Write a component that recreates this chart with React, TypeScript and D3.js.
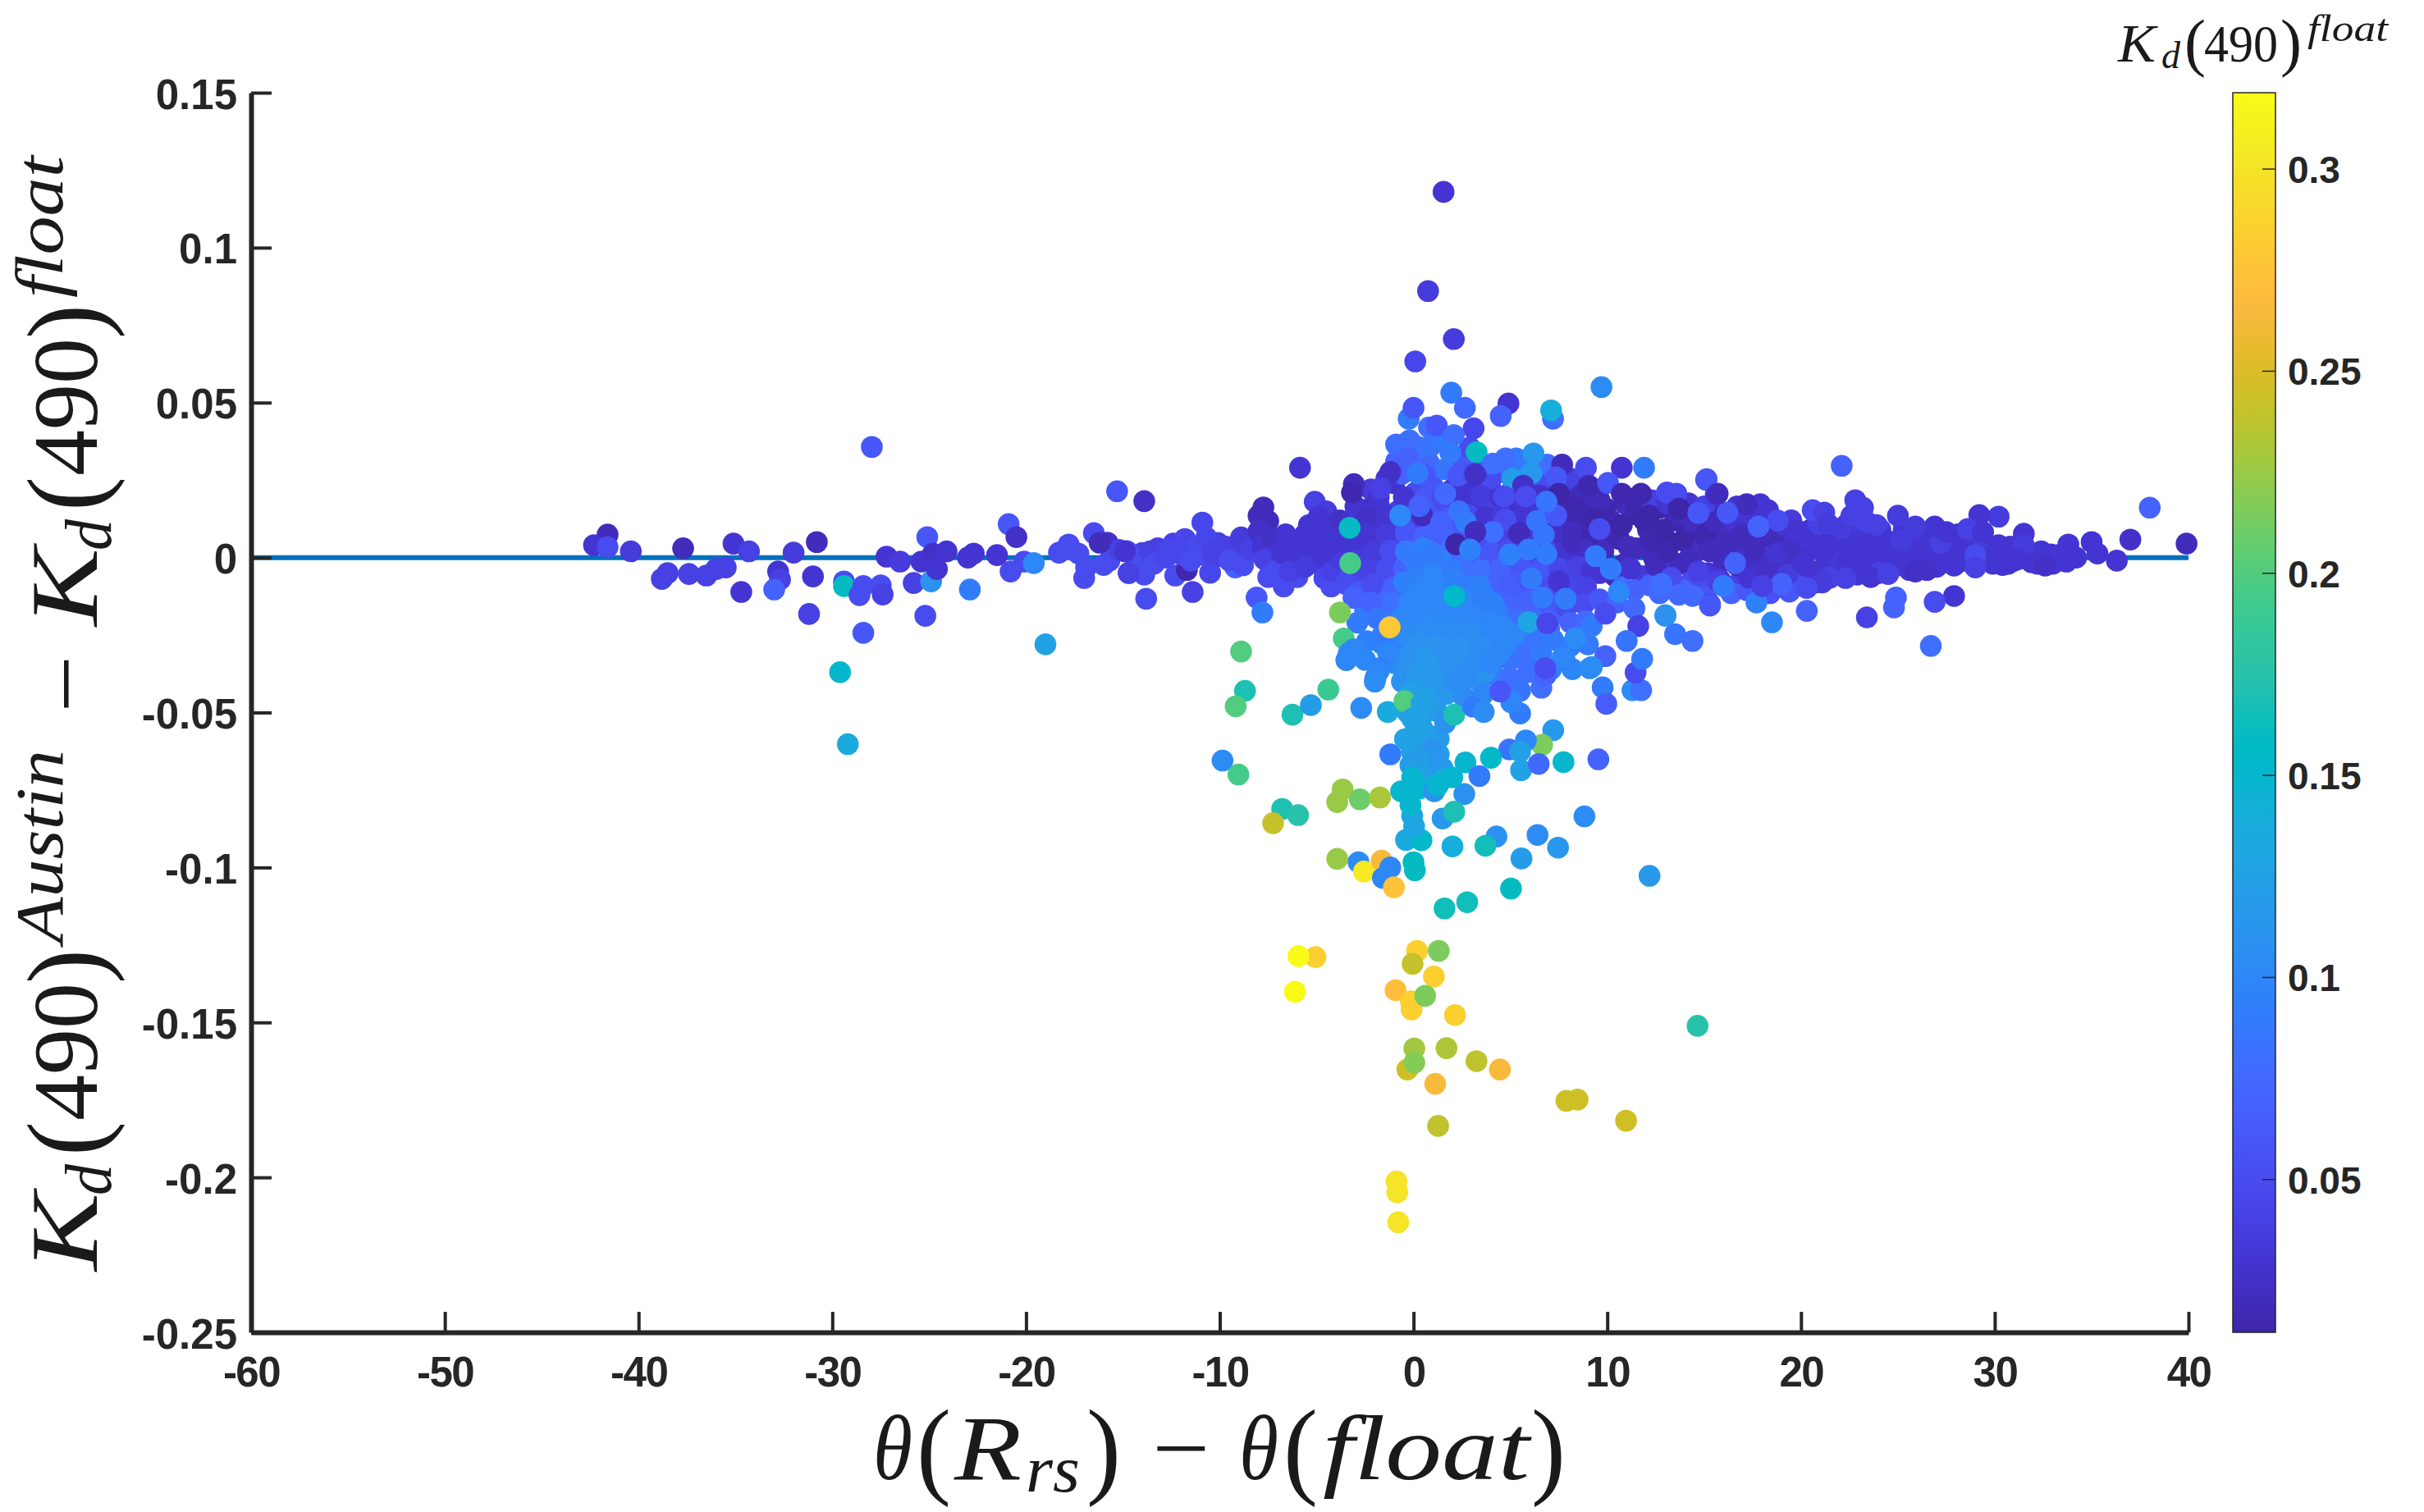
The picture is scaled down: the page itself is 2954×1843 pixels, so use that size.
import * as d3 from "d3";
import { useEffect, useRef } from "react";

const WIDTH = 2954;
const HEIGHT = 1843;
const plot = { left: 306, right: 2667, top: 113, bottom: 1624 };
const bar = { left: 2721, right: 2773 };
const ink = "#262626";

const xTicks = [-60, -50, -40, -30, -20, -10, 0, 10, 20, 30, 40];
const yTicks = [-0.25, -0.2, -0.15, -0.1, -0.05, 0, 0.05, 0.1, 0.15];
const colorTicks = [0.05, 0.1, 0.15, 0.2, 0.25, 0.3];
const colorDomain = [0.0121, 0.3188];

// MATLAB parula, 64 entries
const parula = [
  [0.2422, 0.1504, 0.6603], [0.2504, 0.165, 0.7076], [0.2578, 0.1818, 0.7511], [0.2647, 0.1978, 0.7952],
  [0.2706, 0.2147, 0.8364], [0.2751, 0.2342, 0.871], [0.2783, 0.2559, 0.8991], [0.2803, 0.2782, 0.9221],
  [0.2813, 0.3006, 0.9414], [0.281, 0.3228, 0.9579], [0.2795, 0.3447, 0.9717], [0.276, 0.3667, 0.9829],
  [0.2699, 0.3892, 0.9906], [0.2602, 0.4123, 0.9952], [0.244, 0.4358, 0.9988], [0.2206, 0.4603, 0.9973],
  [0.1963, 0.4847, 0.9892], [0.1834, 0.5074, 0.9798], [0.1786, 0.5289, 0.9682], [0.1764, 0.5499, 0.952],
  [0.1687, 0.5703, 0.9359], [0.154, 0.5902, 0.9218], [0.146, 0.6091, 0.9079], [0.138, 0.6276, 0.8973],
  [0.1248, 0.6459, 0.8883], [0.1113, 0.6635, 0.8763], [0.0952, 0.6798, 0.8598], [0.0689, 0.6948, 0.8394],
  [0.0297, 0.7082, 0.8163], [0.0036, 0.7203, 0.7917], [0.0067, 0.7312, 0.766], [0.0433, 0.7411, 0.7394],
  [0.0964, 0.75, 0.712], [0.1408, 0.7584, 0.6842], [0.1717, 0.767, 0.6554], [0.1938, 0.7758, 0.6251],
  [0.2161, 0.7843, 0.5923], [0.247, 0.7918, 0.5567], [0.2906, 0.7973, 0.5188], [0.3406, 0.8008, 0.4789],
  [0.3909, 0.8029, 0.4354], [0.4456, 0.8024, 0.3909], [0.5044, 0.7993, 0.348], [0.5616, 0.7942, 0.3045],
  [0.6174, 0.7876, 0.2612], [0.672, 0.7793, 0.2227], [0.7242, 0.7698, 0.191], [0.7738, 0.7598, 0.1646],
  [0.8203, 0.7498, 0.1535], [0.8634, 0.7406, 0.1596], [0.9035, 0.733, 0.1774], [0.9393, 0.7288, 0.21],
  [0.9728, 0.7309, 0.2394], [0.9956, 0.7434, 0.2371], [0.997, 0.766, 0.2199], [0.9952, 0.7893, 0.2028],
  [0.9892, 0.8136, 0.1885], [0.9786, 0.8386, 0.1766], [0.9676, 0.8639, 0.1643], [0.961, 0.889, 0.1537],
  [0.9597, 0.9135, 0.1423], [0.9628, 0.9373, 0.1265], [0.9691, 0.9606, 0.1064], [0.9769, 0.9839, 0.0805],
].map(([r, g, b]) => d3.rgb(r * 255, g * 255, b * 255).formatHex());

// rows are [theta difference, Kd difference, Kd float]
const leftWing = [
  [-41.6, 0.0074, 0.02], [-42.3, 0.004, 0.03], [-41.6, 0.0034, 0.05], [-40.4, 0.002, 0.035], [-37.7, 0.003, 0.02],
  [-35.1, 0.0045, 0.03], [-34.3, 0.002, 0.04], [-32, 0.0016, 0.035], [-30.8, 0.005, 0.02], [-38.5, -0.005, 0.04],
  [-38.8, -0.0069, 0.04], [-37.4, -0.0053, 0.04], [-36.5, -0.0058, 0.04], [-36, -0.0037, 0.04], [-35.5, -0.0032, 0.04],
  [-34.7, -0.0111, 0.03], [-32.8, -0.0045, 0.03], [-32.7, -0.0071, 0.04], [-33, -0.0103, 0.07], [-31, -0.0061, 0.03],
  [-31.2, -0.0182, 0.04], [-29.4, -0.0077, 0.05], [-29.4, -0.0092, 0.16], [-28.4, -0.0092, 0.05], [-28.6, -0.0121, 0.05],
  [-27.5, -0.009, 0.05], [-27.4, -0.0119, 0.04], [-25.8, -0.0082, 0.04], [-24.9, -0.0077, 0.11], [-22.9, -0.0103, 0.09],
  [-25.2, -0.0188, 0.05], [-28.4, -0.0243, 0.06], [-29.6, -0.037, 0.15], [-29.2, -0.0602, 0.135], [-19, -0.028, 0.125],
  [-27.96, 0.0357, 0.06], [-15.3, 0.0214, 0.06], [-13.9, 0.0182, 0.025], [-27.2, 0.0003, 0.03], [-26.5, -0.0013, 0.035],
  [-25.4, -0.0013, 0.03], [-25.1, 0.0066, 0.06], [-24.8, 0.0013, 0.025], [-24.1, 0.002, 0.03], [-24.6, -0.0037, 0.03],
  [-23, 0, 0.03], [-22.7, 0.0013, 0.03], [-21.5, 0.0008, 0.03], [-20.9, 0.0108, 0.06], [-20.5, 0.0066, 0.025],
  [-20.8, -0.0045, 0.05], [-20.1, -0.0013, 0.05], [-19.6, -0.0018, 0.1], [-18.3, 0.0016, 0.05], [-17.8, 0.0042, 0.05],
  [-16.5, 0.0079, 0.05], [-16.2, 0.0048, 0.02], [-17.3, 0.0013, 0.05], [-16.9, -0.0032, 0.05], [-17, -0.0066, 0.05],
  [-16, -0.0024, 0.05], [-14.9, 0.002, 0.03], [-14.7, -0.005, 0.04],
];

const leftBand = [
  [-15.8, 0.0048, 0.025], [-15.7, -0.001, 0.05], [-14.8, 0.0021, 0.045], [-14.7, -0.0049, 0.05], [-14, 0.0015, 0.04],
  [-13.9, -0.0055, 0.05], [-13.8, -0.0133, 0.05], [-13.2, 0.003, 0.04], [-12.4, 0.0045, 0.04], [-12.3, -0.0058, 0.05],
  [-11.8, 0.006, 0.045], [-11.7, -0.004, 0.015], [-11.4, -0.0111, 0.04], [-11.2, 0.0036, 0.05], [-10.9, 0.0113, 0.045],
  [-10.5, -0.0049, 0.045], [-10.1, 0.0047, 0.04], [-9.9, 0.0005, 0.04], [-9.2, -0.0032, 0.07], [-9.1, 0.0042, 0.035],
  [-8.6, 0.0012, 0.035], [-8.3, 0.006, 0.03], [-8.1, -0.0129, 0.06], [-8, 0.0135, 0.02], [-7.8, -0.0177, 0.09],
  [-7.75, 0.0162, 0.02], [-7.5, 0.0118, 0.02], [-7.5, -0.0063, 0.05], [-7.4, 0.0022, 0.025], [-7.1, -0.002, 0.04],
  [-6.7, -0.0093, 0.05], [-6.5, 0.0035, 0.03], [-6.2, -0.0015, 0.03], [-6, -0.0063, 0.05], [-5.8, 0.0045, 0.03],
  [-5.4, 0.0105, 0.03], [-5.1, 0.018, 0.04], [-5.2, 0.0012, 0.03], [-4.8, -0.0025, 0.035], [-4.6, -0.0067, 0.045],
  [-4.5, 0.0149, 0.035], [-4.4, 0.006, 0.03], [-4.25, -0.0093, 0.05], [-4, 0.0018, 0.03], [-3.8, 0.0085, 0.03],
  [-3.6, -0.0035, 0.04], [-3.3, 0.0109, 0.02], [-3.2, 0.0035, 0.03], [-3, -0.0075, 0.05], [-2.17, 0.0162, 0.02],
  [-15.2, 0.0025, 0.04], [-14.4, 0.0005, 0.05], [-14.2, -0.0025, 0.05], [-13.6, 0.002, 0.04], [-13.4, -0.002, 0.05],
  [-12.8, 0, 0.045], [-12.6, 0.003, 0.045], [-12, 0.001, 0.045], [-11.5, -0.001, 0.05], [-11, 0.001, 0.05],
  [-10.7, 0.0065, 0.045], [-10.4, 0.0015, 0.04], [-9.7, 0.0035, 0.04], [-9.5, -0.001, 0.05], [-8.9, 0.0065, 0.035],
  [-8.8, -0.0025, 0.05], [-8.4, 0.0025, 0.04], [-8, 0.0085, 0.025], [-7.8, 0.0035, 0.03], [-7.7, -0.0005, 0.04],
  [-7.3, 0.0065, 0.025], [-7.2, -0.0045, 0.05], [-6.8, 0.0015, 0.03], [-6.6, 0.0075, 0.03], [-6.4, -0.0045, 0.04],
  [-5.9, 0.0015, 0.03], [-5.6, -0.003, 0.035], [-5.6, 0.0075, 0.03], [-5, 0.0055, 0.03], [-4.9, 0.013, 0.03],
  [-4.7, 0.0005, 0.03], [-4.5, 0.0095, 0.03], [-4.2, -0.0045, 0.04], [-4.1, 0.0035, 0.03], [-3.8, 0.012, 0.025],
  [-3.7, -0.0015, 0.035], [-3.4, 0.0065, 0.03], [-3.3, -0.0055, 0.045], [-3.5, -0.0085, 0.05], [-2.7, 0.0125, 0.025],
  [-3, 0.0165, 0.03], [-2.9, 0.002, 0.03],
];

const rightBand = [
  [10.2, 0.012, 0.02], [10.6, 0.006, 0.015], [10.9, -0.002, 0.02], [11.3, 0.014, 0.012], [11.5, 0.003, 0.02],
  [11.8, -0.006, 0.035], [12.1, 0.009, 0.015], [12.4, 0, 0.02], [12.7, 0.016, 0.015], [12.9, -0.004, 0.03],
  [13.2, 0.005, 0.012], [13.5, 0.012, 0.015], [13.8, -0.002, 0.02], [14.1, 0.008, 0.015], [14.3, -0.008, 0.05],
  [14.6, 0.002, 0.025], [14.9, 0.011, 0.02], [15.2, -0.005, 0.03], [15.5, 0.006, 0.015], [15.8, 0.015, 0.02],
  [16, -0.001, 0.02], [16.3, 0.009, 0.025], [16.6, -0.009, 0.04], [16.9, 0.003, 0.02], [17.2, 0.012, 0.03],
  [17.5, -0.004, 0.025], [17.8, 0.006, 0.02], [18.1, 0, 0.03], [18.4, 0.01, 0.03], [18.6, -0.007, 0.03],
  [18.9, 0.004, 0.025], [19.2, -0.002, 0.025], [19.5, 0.012, 0.035], [19.7, 0.007, 0.03], [20, -0.005, 0.03],
  [20.2, 0.001, 0.03], [20.5, 0.009, 0.03], [20.8, -0.008, 0.035], [21, 0.004, 0.03], [21.3, -0.002, 0.03],
  [21.6, 0.008, 0.025], [21.9, 0.001, 0.035], [22.2, -0.005, 0.03], [22.4, 0.011, 0.03], [22.7, 0.005, 0.03],
  [23, -0.001, 0.03], [23.3, 0.008, 0.035], [23.5, -0.004, 0.03], [23.8, 0.003, 0.03], [24.1, 0.009, 0.035],
  [24.3, -0.002, 0.03], [24.7, 0.005, 0.035], [25, 0, 0.025], [25.3, 0.009, 0.03], [25.6, -0.004, 0.03],
  [25.9, 0.004, 0.03], [26.2, -0.001, 0.025], [26.5, 0.007, 0.03], [26.8, 0.002, 0.03], [27, -0.003, 0.03],
  [27.4, 0.006, 0.03], [27.7, 0, 0.03], [28, -0.002, 0.03], [28.3, 0.005, 0.03], [28.6, 0.001, 0.03],
  [29.7, 0.002, 0.03], [29.9, -0.002, 0.03], [30.6, 0.002, 0.03], [31, -0.001, 0.03], [31.8, 0.001, 0.03],
  [32.2, -0.002, 0.03], [32.9, 0.001, 0.025], [33.3, -0.001, 0.03], [10.4, -0.006, 0.02], [12.2, -0.009, 0.07],
  [13.2, -0.008, 0.05], [15, -0.01, 0.05], [15.8, -0.007, 0.03], [17.1, 0, 0.025], [19.8, -0.009, 0.05],
  [10.8, -0.0095, 0.08], [11.4, -0.0105, 0.07], [12.7, -0.0115, 0.075], [13.9, -0.0105, 0.07], [15.1, -0.0125, 0.06],
  [16.4, -0.0115, 0.07], [17.2, -0.0105, 0.06], [18.4, -0.0115, 0.055], [19.4, -0.011, 0.06], [10.9, 0.0175, 0.02],
  [11.5, 0.0165, 0.015], [12.3, 0.0185, 0.04], [13.1, 0.0175, 0.03], [14.2, 0.0175, 0.03], [15, 0.0165, 0.04],
  [16.7, 0.0165, 0.03],
];

const rightBandInner = [
  [10.5, 0.009, 0.015], [11.1, 0.0035, 0.02], [11.2, -0.0035, 0.03], [11.9, 0.012, 0.012], [12.2, 0.0055, 0.015],
  [12.5, -0.0025, 0.02], [12.9, 0.009, 0.012], [13.1, 0.002, 0.015], [13.3, -0.0065, 0.05], [13.7, 0.0145, 0.02],
  [13.9, 0.0055, 0.012], [14.2, -0.0005, 0.02], [14.4, 0.0115, 0.02], [14.7, -0.0045, 0.04], [15, 0.007, 0.015],
  [15.3, 0.002, 0.02], [15.6, 0.0115, 0.02], [15.7, -0.0075, 0.04], [16.1, 0.005, 0.02], [16.4, 0.013, 0.03],
  [16.7, -0.0025, 0.02], [17, 0.0075, 0.02], [17.3, -0.0065, 0.03], [17.6, 0.002, 0.02], [17.9, 0.0125, 0.03],
  [18.2, -0.0035, 0.025], [18.5, 0.0065, 0.02], [18.8, 0.0015, 0.03], [19.1, 0.0105, 0.03], [19.3, -0.0055, 0.035],
  [19.6, 0.0035, 0.025], [19.9, 0.0085, 0.03], [20.1, -0.002, 0.03], [20.4, 0.0055, 0.03], [20.7, -0.0045, 0.03],
  [20.9, 0.011, 0.04], [21.2, 0.0015, 0.03], [21.5, -0.0065, 0.04], [21.8, 0.0055, 0.03], [22.1, 0.0095, 0.035],
  [22.3, -0.002, 0.03], [22.6, 0.0025, 0.03], [22.9, -0.0055, 0.03], [23.2, 0.0055, 0.03], [23.4, 0.0115, 0.04],
  [23.7, 0.0005, 0.03], [24, -0.005, 0.04], [24.2, 0.0065, 0.03], [24.5, 0.002, 0.03], [24.8, -0.003, 0.03],
  [25.1, 0.0035, 0.03], [25.4, 0.0065, 0.03], [25.6, -0.0015, 0.03], [25.9, -0.0045, 0.025], [26.1, 0.0075, 0.03],
  [26.4, 0.0025, 0.03], [26.7, -0.002, 0.03], [27, 0.0065, 0.03], [27.2, 0.001, 0.03], [27.5, -0.0015, 0.03],
  [27.8, 0.0035, 0.03], [28.1, 0.0075, 0.03], [28.4, -0.001, 0.03], [28.8, 0.0035, 0.03], [29.2, -0.0015, 0.03],
  [29.5, 0.0045, 0.035], [29.8, 0, 0.03], [30.1, 0.0015, 0.03], [30.7, -0.002, 0.03], [30.8, 0.0035, 0.03],
  [31.3, 0.0015, 0.03], [31.9, -0.0015, 0.03], [32.4, 0, 0.03], [33, -0.002, 0.03], [33.4, 0.001, 0.03],
];

const coreFill = [
  [-2.2, 0.022, 0.035], [-1, 0.024, 0.025], [0.1, 0.021, 0.05], [1, 0.023, 0.06], [2, 0.022, 0.03], [3, 0.024, 0.03],
  [4, 0.022, 0.035], [5, 0.021, 0.03], [6.2, 0.023, 0.04], [7, 0.022, 0.03], [8, 0.023, 0.03], [9.2, 0.021, 0.02],
  [-2.8, 0.015, 0.03], [-1.8, 0.017, 0.03], [-0.8, 0.015, 0.04], [0.3, 0.017, 0.06], [1.3, 0.016, 0.05], [2.2, 0.017, 0.04],
  [3.3, 0.015, 0.03], [4.2, 0.017, 0.04], [5, 0.015, 0.02], [6, 0.017, 0.03], [7, 0.016, 0.025], [8, 0.017, 0.02],
  [9, 0.015, 0.015], [9.9, 0.016, 0.015], [-2.9, 0.01, 0.025], [-2, 0.011, 0.03], [-1, 0.009, 0.04], [0, 0.011, 0.05],
  [1, 0.01, 0.05], [2, 0.011, 0.045], [3, 0.009, 0.04], [4, 0.011, 0.035], [4.9, 0.009, 0.03], [5.8, 0.011, 0.03],
  [6.8, 0.01, 0.025], [7.7, 0.011, 0.02], [8.7, 0.009, 0.015], [9.7, 0.01, 0.012], [-2.6, 0.005, 0.03], [-1.6, 0.004, 0.04],
  [-0.6, 0.005, 0.05], [0.5, 0.004, 0.06], [1.4, 0.006, 0.06], [2.5, 0.005, 0.05], [3.5, 0.004, 0.045], [4.4, 0.006, 0.04],
  [5.4, 0.005, 0.03], [6.3, 0.004, 0.04], [7.3, 0.006, 0.035], [8.3, 0.005, 0.03], [9.2, 0.004, 0.02], [-2.9, -0.001, 0.035],
  [-1.9, -0.002, 0.04], [-1, 0, 0.05], [0, -0.002, 0.07], [1.1, -0.001, 0.07], [2, 0, 0.06], [3, -0.002, 0.06],
  [4, -0.001, 0.05], [5, 0, 0.045], [6, -0.002, 0.05], [7, -0.001, 0.045], [8, 0, 0.03], [9, -0.002, 0.025],
  [9.8, -0.001, 0.02], [-2.4, -0.006, 0.045], [-1.4, -0.007, 0.06], [-0.4, -0.005, 0.07], [0.6, -0.007, 0.08], [1.6, -0.006, 0.07],
  [2.7, -0.005, 0.065], [3.7, -0.007, 0.06], [4.6, -0.006, 0.06], [5.6, -0.005, 0.05], [6.6, -0.007, 0.05], [7.5, -0.005, 0.04],
  [8.5, -0.006, 0.035], [9.6, -0.005, 0.03], [-2.8, -0.011, 0.06], [-1.8, -0.012, 0.075], [-0.8, -0.011, 0.085], [0.3, -0.012, 0.09],
  [1.3, -0.011, 0.08], [2.3, -0.013, 0.075], [3.3, -0.011, 0.07], [4.3, -0.012, 0.07], [5.3, -0.013, 0.065], [6.2, -0.011, 0.06],
  [7.2, -0.012, 0.055], [8.1, -0.013, 0.05], [-2.5, -0.017, 0.09], [-1.5, -0.016, 0.08], [-0.5, -0.018, 0.09], [0.5, -0.017, 0.09],
  [1.5, -0.016, 0.085], [2.5, -0.018, 0.08], [3.5, -0.017, 0.08], [4.5, -0.016, 0.075], [5.5, -0.018, 0.08], [6.4, -0.017, 0.075],
  [7.4, -0.018, 0.06], [-1.1, -0.022, 0.09], [0, -0.023, 0.1], [1, -0.022, 0.09], [2, -0.024, 0.09], [3, -0.022, 0.085],
  [4, -0.023, 0.08], [5, -0.022, 0.085], [6, -0.024, 0.09], [7, -0.023, 0.075], [-1.6, -0.028, 0.1], [-0.5, -0.029, 0.1],
  [0.5, -0.028, 0.105], [1.5, -0.03, 0.1], [2.6, -0.029, 0.09], [3.6, -0.028, 0.09], [4.6, -0.03, 0.085], [5.6, -0.029, 0.085],
  [-1, -0.034, 0.1], [0, -0.035, 0.115], [1, -0.034, 0.11], [2, -0.036, 0.1], [3.1, -0.035, 0.09], [4.1, -0.034, 0.09],
  [-0.6, -0.04, 0.11], [0.5, -0.041, 0.12], [1.4, -0.04, 0.115], [2.4, -0.041, 0.1], [3.4, -0.04, 0.11], [4.4, -0.039, 0.09],
];

const coreInner = [
  [-0.9, 0.031, 0.07], [0.8, 0.0305, 0.075], [1.6, 0.0285, 0.085], [2.6, 0.03, 0.06], [3.4, 0.029, 0.06], [4.7, 0.0275, 0.085],
  [5.6, 0.029, 0.1], [-0.6, 0.027, 0.07], [2.3, 0.0265, 0.06], [4, 0.0255, 0.05], [-1.4, 0.0255, 0.03], [0.6, 0.0265, 0.06],
  [6.6, 0.0255, 0.05], [8.1, 0.0255, 0.04], [-1.8, 0.0195, 0.03], [-0.5, 0.0195, 0.03], [0.6, 0.019, 0.06], [1.5, 0.0195, 0.05],
  [2.6, 0.0195, 0.03], [3.5, 0.02, 0.035], [4.5, 0.0195, 0.03], [5.5, 0.0185, 0.03], [6.5, 0.02, 0.025], [7.5, 0.019, 0.02],
  [8.6, 0.02, 0.02], [9.6, 0.0185, 0.02], [-2.4, 0.0128, 0.025], [-1.4, 0.0135, 0.03], [-0.3, 0.013, 0.05], [0.8, 0.0135, 0.06],
  [1.8, 0.0128, 0.06], [2.8, 0.0138, 0.05], [3.7, 0.013, 0.03], [4.6, 0.0135, 0.035], [5.5, 0.0128, 0.03], [6.5, 0.014, 0.03],
  [7.5, 0.0128, 0.02], [8.4, 0.0135, 0.015], [9.3, 0.0125, 0.012], [-2.3, 0.0075, 0.03], [-1.4, 0.0075, 0.035], [-0.4, 0.008, 0.06],
  [0.6, 0.0072, 0.07], [1.6, 0.008, 0.07], [2.6, 0.0078, 0.06], [3.5, 0.0072, 0.05], [4.5, 0.008, 0.04], [5.4, 0.0072, 0.03],
  [6.4, 0.008, 0.035], [7.3, 0.0075, 0.025], [8.2, 0.0082, 0.02], [9.2, 0.0072, 0.015], [10.1, 0.0075, 0.015], [-2.1, 0.002, 0.035],
  [-1.2, 0.0022, 0.05], [-0.2, 0.0018, 0.07], [0.9, 0.002, 0.08], [1.9, 0.0025, 0.08], [3, 0.0018, 0.07], [4, 0.002, 0.06],
  [4.9, 0.0025, 0.05], [5.9, 0.0018, 0.04], [6.9, 0.0022, 0.045], [7.8, 0.002, 0.03], [8.8, 0.0025, 0.025], [9.8, 0.002, 0.02],
  [-2.3, -0.004, 0.04], [-1.4, -0.0035, 0.05], [-0.5, -0.0035, 0.07], [0.6, -0.004, 0.09], [1.6, -0.0035, 0.09], [2.5, -0.0025, 0.08],
  [3.5, -0.004, 0.08], [4.5, -0.0035, 0.07], [5.5, -0.0025, 0.06], [6.5, -0.004, 0.06], [7.5, -0.0035, 0.045], [8.5, -0.003, 0.04],
  [9.2, -0.0045, 0.03], [-2.1, -0.0085, 0.05], [-1, -0.0095, 0.07], [0, -0.009, 0.09], [1, -0.0085, 0.09], [2, -0.0095, 0.09],
  [3, -0.0085, 0.08], [4, -0.0095, 0.07], [5, -0.0085, 0.065], [6, -0.009, 0.06], [7, -0.0095, 0.05], [8, -0.009, 0.045],
  [8.9, -0.0095, 0.04], [-2.2, -0.0145, 0.07], [-1.1, -0.0145, 0.08], [-0.1, -0.015, 0.09], [1, -0.014, 0.09], [2, -0.0145, 0.085],
  [3, -0.0145, 0.08], [4, -0.0145, 0.075], [5, -0.015, 0.07], [6, -0.014, 0.07], [7, -0.015, 0.06], [7.9, -0.016, 0.05],
  [8.8, -0.015, 0.05], [-1.9, -0.0195, 0.085], [-1, -0.02, 0.085], [0.1, -0.0195, 0.09], [1, -0.019, 0.09], [2, -0.0205, 0.09],
  [3, -0.0195, 0.085], [4, -0.02, 0.08], [5, -0.02, 0.08], [5.9, -0.021, 0.085], [7, -0.0205, 0.07], [8.1, -0.021, 0.07],
  [-1.6, -0.025, 0.09], [-0.8, -0.0255, 0.095], [0.3, -0.0255, 0.1], [1.3, -0.025, 0.1], [2.3, -0.027, 0.09], [3.3, -0.0255, 0.09],
  [4.3, -0.0265, 0.085], [5.3, -0.0255, 0.085], [6.3, -0.0265, 0.085], [-1.3, -0.031, 0.1], [-0.2, -0.032, 0.11], [0.9, -0.0315, 0.11],
  [1.9, -0.033, 0.1], [3, -0.032, 0.09], [4, -0.0315, 0.09], [5, -0.033, 0.085], [5.9, -0.032, 0.08], [-0.5, -0.037, 0.11],
  [0.2, -0.0385, 0.12], [1, -0.0375, 0.115], [2, -0.039, 0.105], [2.9, -0.038, 0.1], [3.9, -0.0375, 0.09], [5, -0.039, 0.08],
  [-0.2, -0.044, 0.125], [0.7, -0.0445, 0.125], [1.7, -0.044, 0.115], [2.6, -0.045, 0.105], [3.6, -0.044, 0.1], [-0.3, -0.05, 0.125],
  [0.6, -0.05, 0.13], [1.2, -0.0495, 0.12], [0.1, -0.056, 0.125], [0.7, -0.057, 0.125], [1.3, -0.0585, 0.12], [-0.1, -0.0625, 0.125],
  [0.6, -0.061, 0.125], [1.3, -0.0635, 0.12], [0.2, -0.069, 0.13], [0.9, -0.0695, 0.125], [1.5, -0.068, 0.12],
];

const coreEdge = [
  [8.9, -0.0205, 0.075], [9.6, -0.0135, 0.06], [10.5, -0.0145, 0.07], [7.2, -0.0265, 0.09], [8.1, -0.0285, 0.09],
  [9, -0.028, 0.09], [6.6, -0.031, 0.09], [7.1, -0.036, 0.095], [8.2, -0.036, 0.1], [5.9, -0.037, 0.08],
  [5.5, -0.043, 0.085], [6.6, -0.042, 0.08], [-3.1, -0.013, 0.07], [-2.9, -0.021, 0.09], [-2.4, -0.027, 0.095],
  [-2.5, -0.033, 0.1], [-0.9, 0.0365, 0.08], [0.9, 0.036, 0.085], [1.5, 0.039, 0.09], [2.9, 0.0355, 0.05],
  [0.8, 0.042, 0.08], [5.3, 0.032, 0.09], [6.9, 0.03, 0.08],
];

const coreBlob = [
  [-0.4, 0.002, 0.09], [0.5, 0.003, 0.095], [1.4, -0.001, 0.095], [0.2, -0.004, 0.095], [1, -0.006, 0.1], [2, -0.004, 0.09],
  [-0.5, -0.008, 0.095], [0.4, -0.01, 0.1], [1.5, -0.011, 0.1], [2.7, -0.009, 0.09], [3.6, -0.012, 0.09], [-0.2, -0.014, 0.1],
  [0.8, -0.015, 0.1], [1.9, -0.016, 0.1], [3, -0.015, 0.095], [4.3, -0.017, 0.09], [-0.6, -0.019, 0.1], [0.2, -0.02, 0.1],
  [1.2, -0.02, 0.105], [2.4, -0.021, 0.105], [3.4, -0.02, 0.1], [4.6, -0.022, 0.1], [5.2, -0.025, 0.1], [-0.3, -0.025, 0.105],
  [0.7, -0.025, 0.11], [1.8, -0.026, 0.11], [2.9, -0.026, 0.11], [4, -0.027, 0.105], [0.1, -0.03, 0.11], [1.1, -0.031, 0.115],
  [2.3, -0.031, 0.11], [3.4, -0.032, 0.105], [4.4, -0.031, 0.105], [0.4, -0.036, 0.115], [1.4, -0.037, 0.11], [2.7, -0.038, 0.105],
  [3.7, -0.037, 0.11], [0, -0.0005, 0.09], [1, 0.001, 0.09], [0.9, -0.0085, 0.1], [2.1, -0.0075, 0.095], [3.1, -0.0125, 0.09],
  [0.1, -0.0125, 0.1], [1.3, -0.0135, 0.1], [2.5, -0.0135, 0.1], [3.6, -0.016, 0.095], [-0.1, -0.017, 0.1], [1.4, -0.018, 0.1],
  [2.9, -0.0185, 0.1], [4, -0.021, 0.1], [0.8, -0.0225, 0.105], [1.9, -0.0235, 0.105], [3, -0.024, 0.105], [4.2, -0.025, 0.1],
  [0.3, -0.028, 0.11], [1.3, -0.0285, 0.11], [2.4, -0.029, 0.11], [3.5, -0.029, 0.105], [4.7, -0.0285, 0.1], [0.6, -0.033, 0.115],
  [1.8, -0.034, 0.11], [3, -0.035, 0.105], [4, -0.034, 0.1], [1, -0.039, 0.115], [2.2, -0.04, 0.105],
];

const coreDetail = [
  [1.55, 0.118, 0.03], [0.75, 0.086, 0.035], [2.08, 0.0705, 0.035], [0.09, 0.0633, 0.045], [1.95, 0.0532, 0.09],
  [2.65, 0.0483, 0.075], [4.9, 0.0497, 0.03], [4.5, 0.0457, 0.07], [7.2, 0.0448, 0.08], [7.1, 0.0475, 0.14],
  [9.7, 0.055, 0.105], [-0.25, 0.0448, 0.09], [0, 0.0483, 0.06], [1.2, 0.0426, 0.06], [3.1, 0.0417, 0.045],
  [2.08, 0.0395, 0.08], [-0.3, 0.0373, 0.08], [0.28, 0.0356, 0.085], [-0.2, 0.0378, 0.08], [1.9, 0.0338, 0.09],
  [3.26, 0.034, 0.16], [6.19, 0.0336, 0.115], [-0.27, 0.032, 0.07], [4.75, 0.032, 0.08], [4.1, 0.0303, 0.08],
  [7.67, 0.03, 0.02], [8.9, 0.029, 0.05], [10.75, 0.029, 0.03], [11.9, 0.029, 0.09], [6.09, 0.0272, 0.115],
  [5.1, 0.0254, 0.12], [7.36, 0.0259, 0.06], [-5.86, 0.029, 0.03], [-3.08, 0.0237, 0.02], [-3.18, 0.021, 0.015],
  [-1.2, 0.0276, 0.025], [0.2, 0.0272, 0.09], [3.1, 0.0272, 0.05], [-1.7, 0.0224, 0.04], [9.05, 0.0232, 0.015],
  [10.04, 0.0241, 0.06], [10.75, 0.0206, 0.015], [11.74, 0.0206, 0.015], [13.08, 0.021, 0.05], [13.57, 0.0206, 0.05],
  [15.13, 0.0253, 0.06], [15.7, 0.0206, 0.02], [3.19, 0.0268, 0.025], [5.66, 0.0232, 0.025], [7.5, 0.0206, 0.012],
  [8.35, 0.0162, 0.015], [1.64, 0.0206, 0.075], [4.67, 0.0197, 0.05], [5.8, 0.0197, 0.05], [0.44, 0.0136, 0.02],
  [0.3, 0.0166, 0.07], [2.34, 0.0149, 0.085], [2.7, 0.0114, 0.09], [-0.69, 0.0136, 0.1], [1.43, 0.0114, 0.07],
  [4.75, 0.0122, 0.05], [6.37, 0.0118, 0.085], [7.36, 0.0136, 0.06], [6.86, 0.018, 0.085], [10.75, 0.0105, 0.012],
  [12.16, 0.0136, 0.012], [13.7, 0.0158, 0.012], [14.7, 0.0144, 0.06], [9.6, 0.0092, 0.05], [8.2, 0.0048, 0.02],
  [5.45, 0.0078, 0.02], [4.1, 0.0083, 0.08], [6.72, 0.0074, 0.085], [3.19, 0.0083, 0.02], [2.2, 0.0043, 0.012],
  [2.91, 0.0026, 0.095], [4.96, 0.001, 0.095], [5.94, 0.0026, 0.09], [6.86, 0.0012, 0.09], [9.4, 0.0005, 0.09],
  [10.18, -0.0036, 0.09], [7.5, -0.0076, 0.03], [6.09, -0.0067, 0.09], [3.4, -0.0089, 0.095], [4.1, -0.0146, 0.095],
  [2.1, -0.0124, 0.155], [7.85, -0.0133, 0.09], [6.65, -0.0129, 0.09], [10.6, -0.0111, 0.1], [11.4, -0.0164, 0.075],
  [13, -0.0186, 0.11], [13.5, -0.0247, 0.085], [14.4, -0.0269, 0.08], [11.6, -0.0221, 0.04], [11, -0.0269, 0.085],
  [11.8, -0.0327, 0.09], [9.9, -0.0318, 0.07], [9.2, -0.0353, 0.105], [7.7, -0.0322, 0.1], [8.35, -0.026, 0.105],
  [9.2, -0.0221, 0.09], [9.9, -0.0181, 0.05], [13.7, -0.012, 0.075], [14.4, -0.0124, 0.075], [15.3, -0.0155, 0.06],
  [12.8, -0.0085, 0.08], [5.94, -0.0208, 0.13], [6.9, -0.0212, 0.045], [6.8, -0.0357, 0.05], [-3.3, 0.0096, 0.16],
  [-3.27, -0.0018, 0.195], [-3.8, -0.0177, 0.215], [-3.6, -0.0261, 0.195], [-3.35, -0.0309, 0.1], [-3.1, -0.0296, 0.1],
  [-1.8, -0.0366, 0.1], [-2, -0.04, 0.105], [-1.23, -0.0225, 0.28],
];

const rightEdge = [
  [22.1, 0.0296, 0.07], [38, 0.0161, 0.07], [39.9, 0.0045, 0.02], [37, 0.0058, 0.025], [36.3, -0.001, 0.03],
  [35, 0.005, 0.03], [35.3, 0.0013, 0.03], [33.8, 0.0042, 0.03], [34.2, 0, 0.03], [33.7, -0.0013, 0.03],
  [32.4, 0.002, 0.03], [32.6, -0.0026, 0.025], [31.5, 0.0077, 0.03], [31.5, 0.004, 0.035], [30.2, 0.0132, 0.035],
  [29.2, 0.0137, 0.03], [28.6, 0.0092, 0.04], [29.4, 0.0082, 0.03], [30.2, 0.004, 0.03], [30.4, -0.0024, 0.03],
  [31.2, -0.0005, 0.03], [29, 0.0008, 0.05], [29, -0.0032, 0.04], [27.9, -0.0026, 0.03], [26.5, -0.004, 0.025],
  [27.2, 0.0048, 0.04], [27.5, 0.0082, 0.03], [26.9, 0.01, 0.03], [25.9, 0.01, 0.035], [25, 0.0135, 0.035],
  [25.2, 0.0055, 0.035], [27.9, -0.0124, 0.03], [26.9, -0.0143, 0.05], [26.7, -0.0285, 0.08], [24.9, -0.0129, 0.07],
  [24.8, -0.0161, 0.07], [23.4, -0.0193, 0.04], [20.3, -0.0172, 0.07], [18.5, -0.0209, 0.1], [17.7, -0.0145, 0.095],
  [15.3, -0.015, 0.05], [13, -0.0188, 0.11], [15.1, 0.0251, 0.06], [15.6, 0.0203, 0.03], [22.8, 0.0185, 0.04],
  [23.2, 0.0161, 0.04], [22.6, 0.0135, 0.04], [23.9, 0.0105, 0.04], [20.6, 0.0153, 0.05], [21.2, 0.0145, 0.04],
  [21.4, 0.0108, 0.035], [17.9, 0.0172, 0.03], [17.2, 0.0172, 0.02], [18.3, 0.0153, 0.03], [18.8, 0.0119, 0.05],
  [17.8, 0.01, 0.07], [16.2, 0.0145, 0.06], [21.1, -0.008, 0.035], [20.3, -0.0098, 0.05], [19, -0.0085, 0.07],
  [18, -0.0092, 0.04], [22.3, -0.0066, 0.04], [23.6, -0.0063, 0.03], [24.5, -0.0053, 0.04], [16, -0.0092, 0.09],
  [16.6, -0.0018, 0.07],
];

const plume = [
  [-9.86, -0.0655, 0.105], [-9.04, -0.07, 0.195], [-8.7, -0.043, 0.17], [-9.18, -0.048, 0.2], [-8.9, -0.0303, 0.2],
  [-4.4, -0.0426, 0.19], [-6.25, -0.0507, 0.17], [-5.3, -0.0476, 0.12], [-2.7, -0.0485, 0.105], [-1.33, -0.0498, 0.135],
  [-0.47, -0.0463, 0.2], [-6.78, -0.0811, 0.17], [-5.96, -0.0831, 0.175], [-7.25, -0.0857, 0.24], [-3.66, -0.0748, 0.225],
  [-3.94, -0.0789, 0.225], [-2.77, -0.078, 0.21], [-1.73, -0.0774, 0.23], [-3.94, -0.0972, 0.225], [-2.84, -0.0983, 0.105],
  [-2.56, -0.1013, 0.305], [-1.65, -0.0978, 0.265], [-1.58, -0.1034, 0.1], [-1.2, -0.1, 0.1], [-1.01, -0.1064, 0.275],
  [0, -0.0983, 0.16], [0.07, -0.1009, 0.16], [-0.39, -0.0911, 0.135], [0.41, -0.0912, 0.155], [-1.2, -0.0635, 0.09],
  [2.01, -0.0932, 0.14], [4.28, -0.09, 0.11], [3.71, -0.093, 0.165], [5.57, -0.0971, 0.12], [6.4, -0.0895, 0.105],
  [7.46, -0.0936, 0.115], [8.82, -0.0835, 0.105], [12.18, -0.1027, 0.115], [5.03, -0.1068, 0.16], [2.77, -0.1112, 0.165],
  [1.6, -0.1132, 0.165], [7.21, -0.0557, 0.115], [6.64, -0.0604, 0.215], [5.8, -0.059, 0.1], [4.94, -0.0619, 0.085],
  [5.5, -0.0626, 0.125], [5.55, -0.0686, 0.125], [6.46, -0.0666, 0.075], [7.74, -0.066, 0.15], [9.54, -0.0651, 0.07],
  [4, -0.0646, 0.155], [2.68, -0.0661, 0.15], [3.4, -0.0705, 0.09], [2.62, -0.0763, 0.11], [1.5, -0.0842, 0.115],
  [2.1, -0.082, 0.17], [0.97, -0.0617, 0.11], [1.25, -0.0666, 0.115], [0.22, -0.0643, 0.12], [-0.16, -0.067, 0.12],
  [-0.44, -0.0586, 0.125], [0.41, -0.0547, 0.125], [-0.07, -0.052, 0.125], [0.41, -0.0472, 0.125], [1.63, -0.0534, 0.11],
  [2.1, -0.0507, 0.17], [3.06, -0.0481, 0.09], [3.62, -0.0498, 0.105], [5.5, -0.0503, 0.09], [5.04, -0.0467, 0.1],
  [4.47, -0.0432, 0.06], [6.83, -0.0379, 0.07], [7.8, -0.0331, 0.095], [9.1, -0.0357, 0.105], [9.76, -0.0419, 0.09],
  [9.95, -0.0472, 0.065], [11.3, -0.0428, 0.105], [11.75, -0.0428, 0.08], [11.46, -0.0371, 0.05], [-1.77, -0.0357, 0.09],
  [-1.96, -0.0388, 0.09], [-3.47, -0.0331, 0.1], [-0.25, -0.0754, 0.15], [-0.64, -0.0754, 0.15], [0.31, -0.0745, 0.15],
  [1.07, -0.0754, 0.11], [1.45, -0.0718, 0.14], [2, -0.0709, 0.15], [-0.07, -0.0833, 0.13], [0.03, -0.0868, 0.13],
  [-0.16, -0.0798, 0.15], [1.25, -0.0736, 0.15], [-0.07, -0.0709, 0.15],
];

const lowTail = [
  [-5.06, -0.1289, 0.285], [-5.94, -0.1286, 0.318], [-6.12, -0.1401, 0.318], [0.18, -0.1269, 0.285], [1.3, -0.1269, 0.215],
  [-0.05, -0.1311, 0.24], [1.05, -0.1352, 0.285], [-0.93, -0.1396, 0.27], [-0.14, -0.1432, 0.285], [-0.1, -0.1458, 0.285],
  [0.6, -0.1414, 0.215], [2.14, -0.1476, 0.285], [-0.32, -0.1652, 0.245], [0.04, -0.1584, 0.228], [0.04, -0.163, 0.218],
  [1.7, -0.1583, 0.232], [3.25, -0.1625, 0.238], [4.46, -0.1652, 0.265], [1.12, -0.1698, 0.265], [7.89, -0.1753, 0.245],
  [8.47, -0.1749, 0.245], [10.97, -0.1817, 0.245], [1.27, -0.1834, 0.238], [-0.88, -0.2013, 0.3], [-0.84, -0.2048, 0.3],
  [-0.79, -0.2145, 0.3], [14.66, -0.1511, 0.175],
];

const points = [
  ...rightBand, ...rightBandInner, ...leftBand, ...leftWing, ...coreFill, ...coreInner, ...coreEdge, ...coreBlob,
  ...rightEdge, ...plume, ...lowTail, ...coreDetail,
];

// [text, offset along the label, length, font size, italic, baseline shift]
const kdParts = (u) => [
  ["K", u, 95, 116, true, 0],
  ["d", u + 92, 38, 80, true, 17],
  ["(", u + 140, 42, 132, false, 6],
  ["490", u + 183, 168, 112, false, 0],
  [")", u + 350, 42, 132, false, 6],
];
const yLabelParts = [
  ...kdParts(0),
  ["Austin", 399, 236, 83, true, -42],
  ["\u2212", 680, 70, 112, false, 0],
  ...kdParts(786),
  ["float", 1186, 173, 83, true, -42],
];
const xLabelParts = [
  ["\u03b8", 0, 48, 112, true, 0],
  ["(", 53, 42, 132, false, 6],
  ["R", 99, 82, 112, true, 0],
  ["rs", 186, 66, 80, true, 15],
  [")", 260, 42, 132, false, 6],
  ["\u2212", 340, 70, 112, false, 0],
  ["\u03b8", 446, 48, 112, true, 0],
  ["(", 500, 42, 132, false, 6],
  ["float", 548, 252, 112, true, 0],
  [")", 802, 42, 132, false, 6],
];
const colorLabelParts = [
  ["K", 0, 46, 66, true, 0],
  ["d", 53, 23, 46, true, 8],
  ["(", 81, 26, 78, false, 3],
  ["490", 105, 90, 64, false, 0],
  [")", 198, 26, 78, false, 3],
  ["float", 231, 98, 46, true, -25],
];

function addMath(group, parts) {
  group
    .selectAll("text")
    .data(parts)
    .join("text")
    .attr("x", (p) => p[1])
    .attr("y", (p) => p[5])
    .attr("textLength", (p) => p[2])
    .attr("lengthAdjust", "spacingAndGlyphs")
    .attr("fill", "#1a1a1a")
    .style("font-family", "'Liberation Serif', serif")
    .style("font-size", (p) => `${p[3]}px`)
    .style("font-style", (p) => (p[4] ? "italic" : "normal"))
    .text((p) => p[0]);
}

function drawChart(svgElement) {
  const svg = d3.select(svgElement);
  svg.selectAll("*").remove();

  const xScale = d3.scaleLinear().domain([-60, 40]).range([plot.left, plot.right]);
  const yScale = d3.scaleLinear().domain([-0.25, 0.15]).range([plot.bottom, plot.top]);
  const cScale = d3.scaleLinear().domain(colorDomain).range([plot.bottom, plot.top]);
  const colorScale = d3
    .scaleLinear()
    .domain(parula.map((_, i) => colorDomain[0] + ((colorDomain[1] - colorDomain[0]) * i) / (parula.length - 1)))
    .range(parula)
    .clamp(true);

  const gradient = svg
    .append("defs")
    .append("linearGradient")
    .attr("id", "parula-bar")
    .attr("x1", 0)
    .attr("x2", 0)
    .attr("y1", 1)
    .attr("y2", 0);
  gradient
    .selectAll("stop")
    .data(parula)
    .join("stop")
    .attr("offset", (_, i) => i / (parula.length - 1))
    .attr("stop-color", (d) => d);

  svg
    .append("line")
    .attr("x1", xScale(-60))
    .attr("x2", xScale(40))
    .attr("y1", yScale(0))
    .attr("y2", yScale(0))
    .attr("stroke", "#0072bd")
    .attr("stroke-width", 6);

  svg
    .append("g")
    .selectAll("circle")
    .data(points)
    .join("circle")
    .attr("cx", (d) => xScale(d[0]))
    .attr("cy", (d) => yScale(d[1]))
    .attr("r", 13.3)
    .attr("fill", (d) => colorScale(d[2]));

  const tickStyle = (group) => {
    group.selectAll(".domain").attr("stroke", ink).attr("stroke-width", 6);
    group.selectAll(".tick line").attr("stroke", ink).attr("stroke-width", 4);
    group
      .selectAll(".tick text")
      .attr("fill", ink)
      .style("font-family", "'Liberation Sans', Arial, sans-serif")
      .style("font-weight", "700")
      .style("font-size", "51px");
  };

  svg
    .append("g")
    .attr("transform", `translate(0, ${plot.bottom})`)
    .call(
      d3
        .axisBottom(xScale)
        .tickValues(xTicks)
        .tickSizeInner(-25)
        .tickSizeOuter(0)
        .tickFormat((d) => String(d))
    )
    .call(tickStyle)
    .call((group) => group.selectAll(".tick text").attr("dy", 0).attr("y", 66).style("letter-spacing", "-1.5px"));

  svg
    .append("g")
    .attr("transform", `translate(${plot.left}, 0)`)
    .call(
      d3
        .axisLeft(yScale)
        .tickValues(yTicks)
        .tickSizeInner(-25)
        .tickSizeOuter(0)
        .tickFormat((d) => String(d))
    )
    .call(tickStyle)
    .call((group) => group.selectAll(".tick text").attr("dy", 0).attr("y", 19).attr("x", -17));

  // colorbar
  svg
    .append("rect")
    .attr("x", bar.left)
    .attr("y", plot.top)
    .attr("width", bar.right - bar.left)
    .attr("height", plot.bottom - plot.top)
    .attr("fill", "url(#parula-bar)")
    .attr("stroke", ink)
    .attr("stroke-width", 1.5);

  const colorAxis = svg.append("g").attr("transform", `translate(${bar.right}, 0)`);
  colorAxis.call(
    d3
      .axisRight(cScale)
      .tickValues(colorTicks)
      .tickSizeInner(-16)
      .tickSizeOuter(0)
      .tickFormat((d) => String(d))
  );
  colorAxis.select(".domain").remove();
  colorAxis.selectAll(".tick line").attr("stroke", ink).attr("stroke-width", 1.5);
  colorAxis
    .selectAll(".tick text")
    .attr("x", 15)
    .attr("y", 17)
    .attr("dy", 0)
    .attr("fill", ink)
    .style("font-family", "'Liberation Sans', Arial, sans-serif")
    .style("font-weight", "700")
    .style("font-size", "46px");

  addMath(svg.append("g").attr("transform", "translate(118, 1549) rotate(-90)"), yLabelParts);
  addMath(svg.append("g").attr("transform", "translate(1064, 1803)"), xLabelParts);
  addMath(svg.append("g").attr("transform", "translate(2581, 75)"), colorLabelParts);
}

export default function App() {
  const svgRef = useRef(null);

  useEffect(() => {
    if (!svgRef.current) return;
    drawChart(svgRef.current);
  }, []);

  return (
    <svg
      ref={svgRef}
      width={WIDTH}
      height={HEIGHT}
      viewBox={`0 0 ${WIDTH} ${HEIGHT}`}
      style={{ position: "absolute", left: 0, top: 0, display: "block", background: "#ffffff" }}
    />
  );
}
